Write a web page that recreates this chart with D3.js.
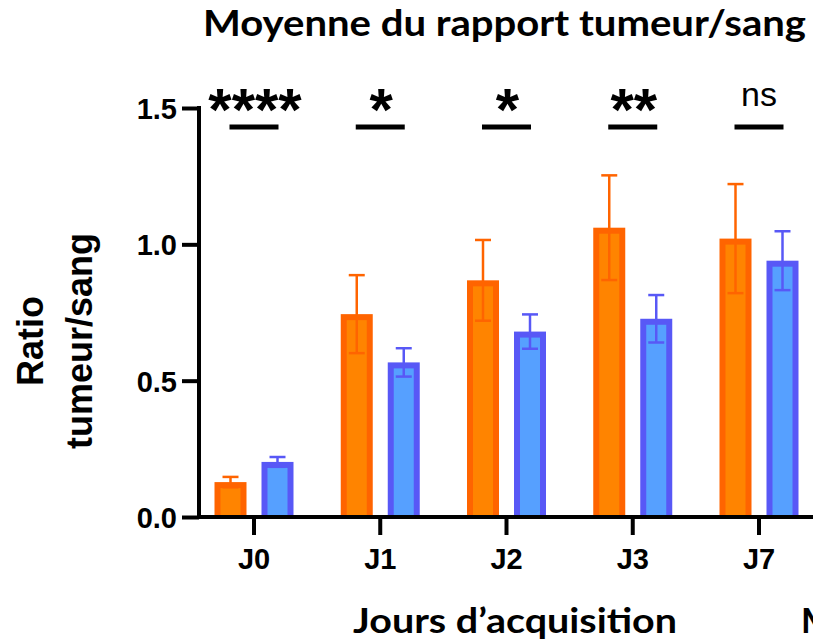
<!DOCTYPE html>
<html><head><meta charset="utf-8">
<script src="https://cdn.jsdelivr.net/npm/d3@7"></script>
<style>
html,body{margin:0;padding:0;background:#fff;overflow:hidden}
svg{display:block}
</style></head>
<body>
<svg id="c" width="813" height="643"></svg>
<script>
// ---- data ----
const categories = ["J0","J1","J2","J3","J7"];
const seriesA = [0.128, 0.744, 0.868, 1.061, 1.021];   // orange
const errA    = [0.019, 0.143, 0.148, 0.192, 0.200];
const seriesB = [0.202, 0.567, 0.680, 0.727, 0.940];   // blue
const errB    = [0.018, 0.052, 0.063, 0.087, 0.108];
const sigLabels = ["****","*","*","**","ns"];
const yTicks = [0, 0.5, 1.0, 1.5];

const title = "Moyenne du rapport tumeur/sang";
const xTitle = "Jours d\u2019acquisition";
const yTitle1 = "Ratio";
const yTitle2 = "tumeur/sang";

// ---- styles ----
const colA = {edge:"#FF6400", fill:"#FF8400"};
const colB = {edge:"#5858F6", fill:"#56A0FF"};
const arial = "'Liberation Sans', Arial, sans-serif";
const calibri = "Lato, 'Open Sans', sans-serif";

const svg = d3.select("#c");

const y = d3.scaleLinear().domain([0,1.5]).range([517,108]);
const step = 126.25;
const x = d3.scaleBand().domain(categories)
  .range([254 - step/2, 254 - step/2 + step*categories.length])
  .paddingInner(0).paddingOuter(0);
const cx = c => x(c) + x.bandwidth()/2;
const off = 23.5, bw = 32, border = 6;

// bars
function drawSeries(vals, errs, col, sign){
  const g = svg.append("g");
  categories.forEach((c,i)=>{
    const xc = cx(c) + sign*off;
    const top = y(vals[i]), base = y(0);
    g.append("rect").attr("x", xc-bw/2).attr("y", top).attr("width", bw)
      .attr("height", base-top).attr("fill", col.edge);
    g.append("rect").attr("x", xc-bw/2+border).attr("y", top+border)
      .attr("width", bw-2*border).attr("height", Math.max(0, base-top-border)).attr("fill", col.fill);
    const hi = y(vals[i]+errs[i]), lo = y(Math.max(0, vals[i]-errs[i]));
    g.append("line").attr("x1",xc).attr("x2",xc).attr("y1",hi).attr("y2",lo)
      .attr("stroke",col.edge).attr("stroke-width",2.5);
    [hi,lo].forEach(yy=>{
      g.append("line").attr("x1",xc-8).attr("x2",xc+8).attr("y1",yy).attr("y2",yy)
        .attr("stroke",col.edge).attr("stroke-width",2.5);
    });
  });
}
drawSeries(seriesA, errA, colA, -1);
drawSeries(seriesB, errB, colB, 1);

// y axis
const yAxis = d3.axisLeft(y).tickValues(yTicks).tickFormat(d3.format(".1f"))
  .tickSize(17).tickPadding(5).tickSizeOuter(0);
const gy = svg.append("g").attr("transform","translate(199,0)").call(yAxis);
gy.select(".domain").remove();
gy.selectAll(".tick line").attr("stroke","#000").attr("stroke-width",4);
gy.selectAll(".tick text").attr("font-family",arial).attr("font-weight","bold")
  .attr("font-size",29).attr("fill","#000").attr("dy","0.36em");
svg.append("line").attr("x1",199).attr("x2",199).attr("y1",y(1.5)-2).attr("y2",y(0)+2)
  .attr("stroke","#000").attr("stroke-width",4);

// x axis
const xAxis = d3.axisBottom(x).tickSize(18).tickPadding(13).tickSizeOuter(0);
const gx = svg.append("g").attr("transform",`translate(0,${y(0)})`).call(xAxis);
gx.select(".domain").remove();
gx.selectAll(".tick line").attr("stroke","#000").attr("stroke-width",4);
gx.selectAll(".tick text").attr("font-family",arial).attr("font-weight","bold")
  .attr("font-size",29).attr("fill","#000");
svg.append("line").attr("x1",197).attr("x2",813).attr("y1",y(0)).attr("y2",y(0))
  .attr("stroke","#000").attr("stroke-width",4);

// significance
categories.forEach((c,i)=>{
  const xa = cx(c)-off, xb = cx(c)+off;
  svg.append("line").attr("x1",xa-1).attr("x2",xb+1).attr("y1",127).attr("y2",127)
    .attr("stroke","#000").attr("stroke-width",5);
  const isNs = sigLabels[i]==="ns";
  svg.append("text").attr("x",cx(c)+(isNs?0:1)).attr("y", isNs?106:130)
    .attr("text-anchor","middle").attr("font-family",arial)
    .attr("font-weight", isNs?"normal":"bold")
    .attr("font-size", isNs?34:60).attr("fill","#000").text(sigLabels[i]);
});

// titles
svg.append("text").attr("x",203).attr("y",36).attr("font-family",calibri)
  .attr("font-weight","bold").attr("font-size",36).attr("fill","#000")
  .attr("textLength",603).attr("lengthAdjust","spacingAndGlyphs").text(title);
svg.append("text").attr("x",353).attr("y",633).attr("font-family",calibri)
  .attr("font-weight","bold").attr("font-size",35).attr("fill","#000")
  .attr("textLength",324).attr("lengthAdjust","spacingAndGlyphs").text(xTitle);
svg.append("text").attr("x",801).attr("y",633).attr("font-family",calibri)
  .attr("font-weight","bold").attr("font-size",35).attr("fill","#000").text("M");

svg.append("text").attr("transform","translate(43,341) rotate(-90)")
  .attr("text-anchor","middle").attr("font-family",arial).attr("font-weight","bold")
  .attr("font-size",36).attr("fill","#000").text(yTitle1);
svg.append("text").attr("transform","translate(92,341) rotate(-90)")
  .attr("text-anchor","middle").attr("font-family",arial).attr("font-weight","bold")
  .attr("font-size",36).attr("fill","#000").text(yTitle2);
</script>
</body></html>
